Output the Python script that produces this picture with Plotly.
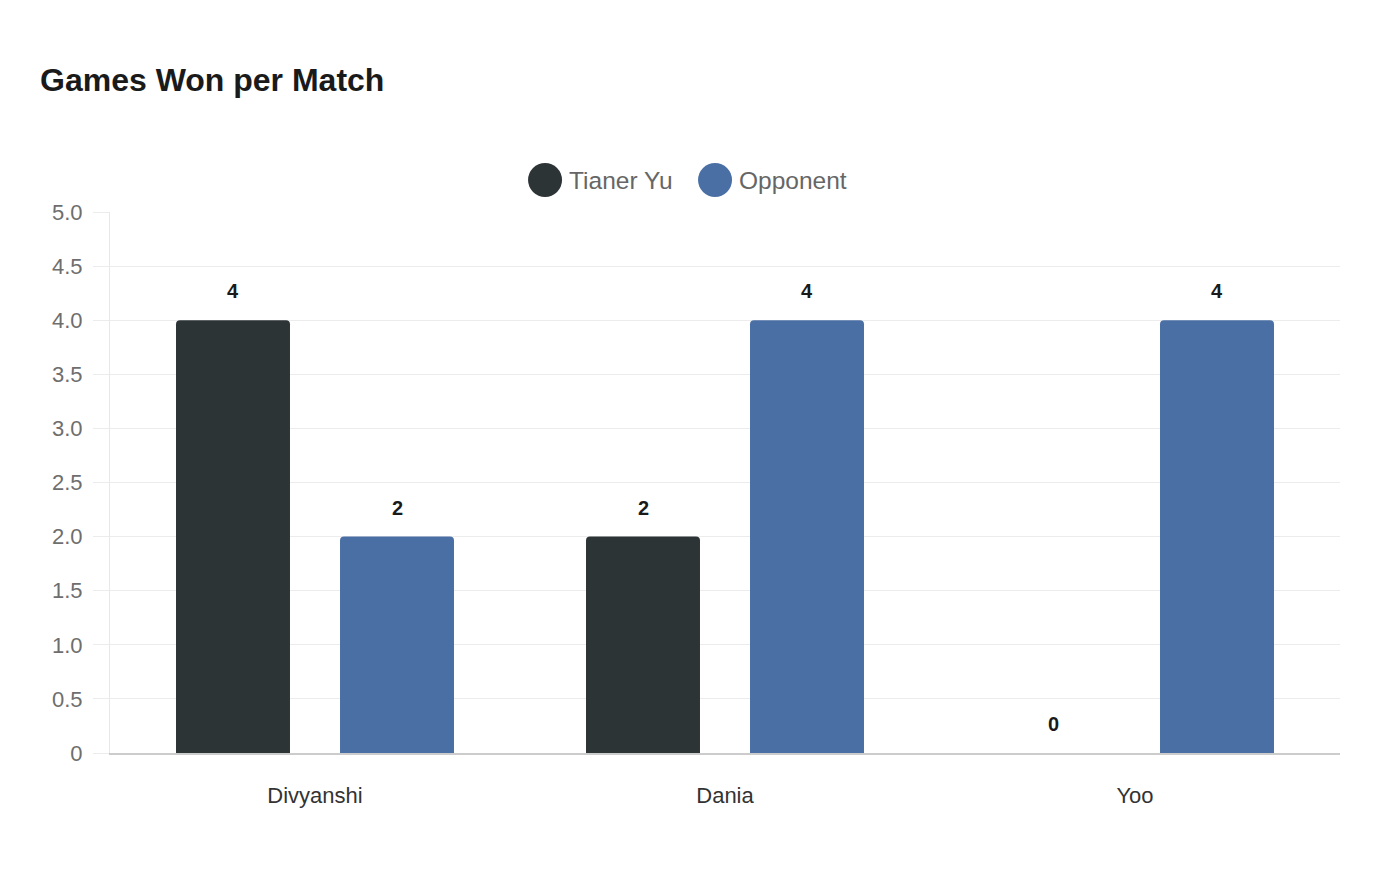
import plotly.graph_objects as go

# match data
opponents = ["Divyanshi", "Dania", "Yoo"]
tianer_games = [4, 2, 0]
opponent_games = [2, 4, 4]
y_ticks = [0, 0.5, 1.0, 1.5, 2.0, 2.5, 3.0, 3.5, 4.0, 4.5, 5.0]
y_tick_text = ["0", "0.5", "1.0", "1.5", "2.0", "2.5", "3.0", "3.5", "4.0", "4.5", "5.0"]

DARK = "#2d3436"
BLUE = "#4a6fa5"
FONT = "Liberation Sans"

BARGAP = 0.2
series = [("Tianer Yu", tianer_games, DARK), ("Opponent", opponent_games, BLUE)]

fig = go.Figure()

for name, vals, col in series:
    fig.add_trace(go.Bar(
        x=opponents,
        y=vals,
        name=name,
        marker=dict(color=col, line=dict(width=0)),
        showlegend=False,
        hoverinfo="x+y+name",
    ))

# value labels above each bar (grouped offsets in category units)
slot = (1 - BARGAP) / len(series)
for k, (name, vals, col) in enumerate(series):
    offset = -(1 - BARGAP) / 2 + slot * (k + 0.5)
    for i, v in enumerate(vals):
        fig.add_annotation(
            x=i + offset, y=v, xref="x", yref="y",
            text=f"<b>{v}</b>", showarrow=False,
            yshift=29, yanchor="middle",
            font=dict(family=FONT, size=20, color="#1a1a1a"),
        )

# legend: big circles + names (drawn above plot area)
legend_x = [0.3537, 0.4919]
for (name, vals, col), lx in zip(series, legend_x):
    fig.add_shape(
        type="circle", xref="paper", yref="paper",
        xsizemode="pixel", ysizemode="pixel",
        xanchor=lx, yanchor=1.0591,
        x0=-17, x1=17, y0=-17, y1=17,
        fillcolor=col, line=dict(width=0),
    )
    fig.add_annotation(
        x=lx, y=1.0591, xref="paper", yref="paper",
        text=name, showarrow=False, xanchor="left", yanchor="middle",
        xshift=22, font=dict(family=FONT, size=24.5, color="#666666"),
    )

fig.update_layout(
    width=1400,
    height=880,
    paper_bgcolor="white",
    plot_bgcolor="white",
    margin=dict(l=102, r=68, t=204, b=135),
    barmode="group",
    bargap=BARGAP,
    bargroupgap=0.305,
    barcornerradius=4,
    showlegend=False,
    title=dict(
        text="Games Won per Match",
        x=32 / 1400, xref="container", xanchor="left",
        y=1 - 72 / 880, yref="container", yanchor="middle",
        font=dict(family=FONT, size=32, color="#1a1a1a", weight="bold"),
    ),
    xaxis=dict(
        showgrid=False,
        showline=True, linecolor="#cccccc", linewidth=1.5,
        ticks="", ticklabelstandoff=22,
        tickfont=dict(family=FONT, size=22, color="#333333"),
    ),
    yaxis=dict(
        range=[0, 5],
        tickvals=y_ticks, ticktext=y_tick_text,
        showgrid=True, gridcolor="#ececec", gridwidth=1,
        zeroline=False,
        showline=True, linecolor="#e8e8e8", linewidth=1,
        ticks="outside", ticklen=16, tickcolor="#ececec",
        ticklabelstandoff=6,
        tickfont=dict(family=FONT, size=22, color="#6e6e6e"),
    ),
)

fig.write_html("out.html")
